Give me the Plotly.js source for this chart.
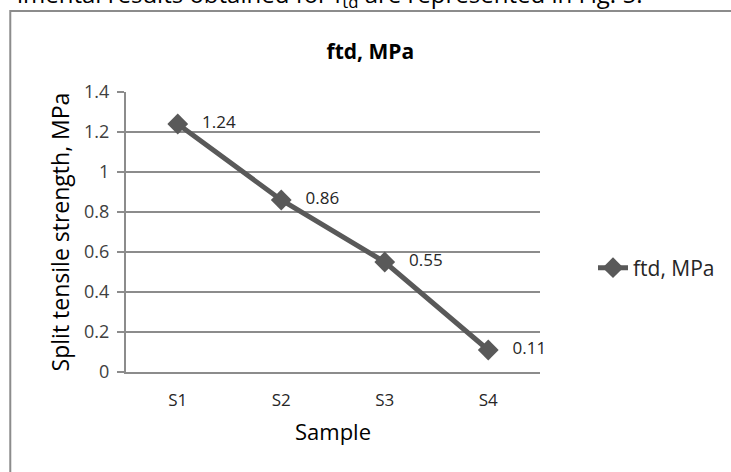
<!DOCTYPE html>
<html>
<head>
<meta charset="utf-8">
<script src="https://cdn.plot.ly/plotly-3.0.1.min.js"></script>
<style>html,body{margin:0;padding:0;background:#fff;}#chart{width:731px;height:472px;}</style>
</head>
<body>
<div id="chart"></div>
<script>
var samples = ["S1", "S2", "S3", "S4"];
var ftd = [1.24, 0.86, 0.55, 0.11];
var ftdLabels = ["1.24", "0.86", "0.55", "0.11"];
var yTicks = [0, 0.2, 0.4, 0.6, 0.8, 1, 1.2, 1.4];
var yTickText = ["0", "0.2", "0.4", "0.6", "0.8", "1", "1.2", "1.4"];
var seriesName = "ftd, MPa";

var FONT = "Open Sans, Noto Sans, sans-serif";

var trace = {
  x: samples,
  y: ftd,
  type: "scatter",
  mode: "lines+markers+text",
  name: seriesName,
  text: ftdLabels.map(function(t){ return "   " + t; }),
  textposition: "middle right",
  textfont: {family: FONT, size: 17, color: "#262626"},
  line: {color: "#595959", width: 5},
  marker: {symbol: "diamond", size: 16, color: "#595959"},
  cliponaxis: false
};

var layout = {
  width: 731,
  height: 472,
  margin: {l: 126, r: 190, t: 92, b: 100},
  paper_bgcolor: "#ffffff",
  plot_bgcolor: "#ffffff",
  font: {family: FONT, color: "#262626"},
  title: {
    text: "<b>ftd, MPa</b>",
    font: {family: FONT, size: 21, color: "#000000"},
    xref: "paper", x: (371 - 126) / 415, xanchor: "center",
    yref: "container", y: 1 - 52 / 472, yanchor: "middle"
  },
  showlegend: true,
  legend: {
    x: (593 - 126) / 415, xanchor: "left",
    y: (372 - 268) / 280, yanchor: "middle",
    font: {family: FONT, size: 21, color: "#262626"},
    bgcolor: "rgba(0,0,0,0)"
  },
  xaxis: {
    type: "category",
    range: [-0.5, 3.5],
    showgrid: false,
    zeroline: false,
    showline: true, linecolor: "#8c8c8c", linewidth: 2,
    ticks: "",
    ticklabelstandoff: 12,
    tickfont: {family: FONT, size: 17, color: "#262626"},
    title: {text: "Sample", font: {family: FONT, size: 22, color: "#000000"}, standoff: 14}
  },
  yaxis: {
    range: [0, 1.4],
    tickmode: "array",
    tickvals: yTicks,
    ticktext: yTickText,
    showgrid: true, gridcolor: "#8c8c8c", gridwidth: 2,
    zeroline: false,
    showline: true, linecolor: "#8c8c8c", linewidth: 2,
    ticks: "outside", ticklen: 7, tickcolor: "#8c8c8c", tickwidth: 2,
    ticklabelstandoff: 4,
    tickfont: {family: FONT, size: 18, color: "#404040"},
    title: {text: "Split tensile strength, MPa", font: {family: FONT, size: 23, color: "#000000"}, standoff: 8}
  },
  shapes: [{
    type: "rect", xref: "paper", yref: "paper",
    x0: (10 - 126) / 415, x1: 2,
    y0: -2, y1: 1 + (92 - 11) / 280,
    line: {color: "#8c8c8c", width: 2},
    fillcolor: "rgba(0,0,0,0)", layer: "below"
  }],
  annotations: [{
    xref: "paper", yref: "paper",
    x: (645 - 126) / 415, xanchor: "right",
    y: 1 + (92 - 15) / 280, yanchor: "bottom",
    text: "imental results obtained for f<sub>td</sub> are represented in Fig. 5.",
    showarrow: false,
    font: {family: FONT, size: 24, color: "#000000"}
  }]
};

Plotly.newPlot("chart", [trace], layout, {displayModeBar: false, staticPlot: true});
</script>
</body>
</html>
